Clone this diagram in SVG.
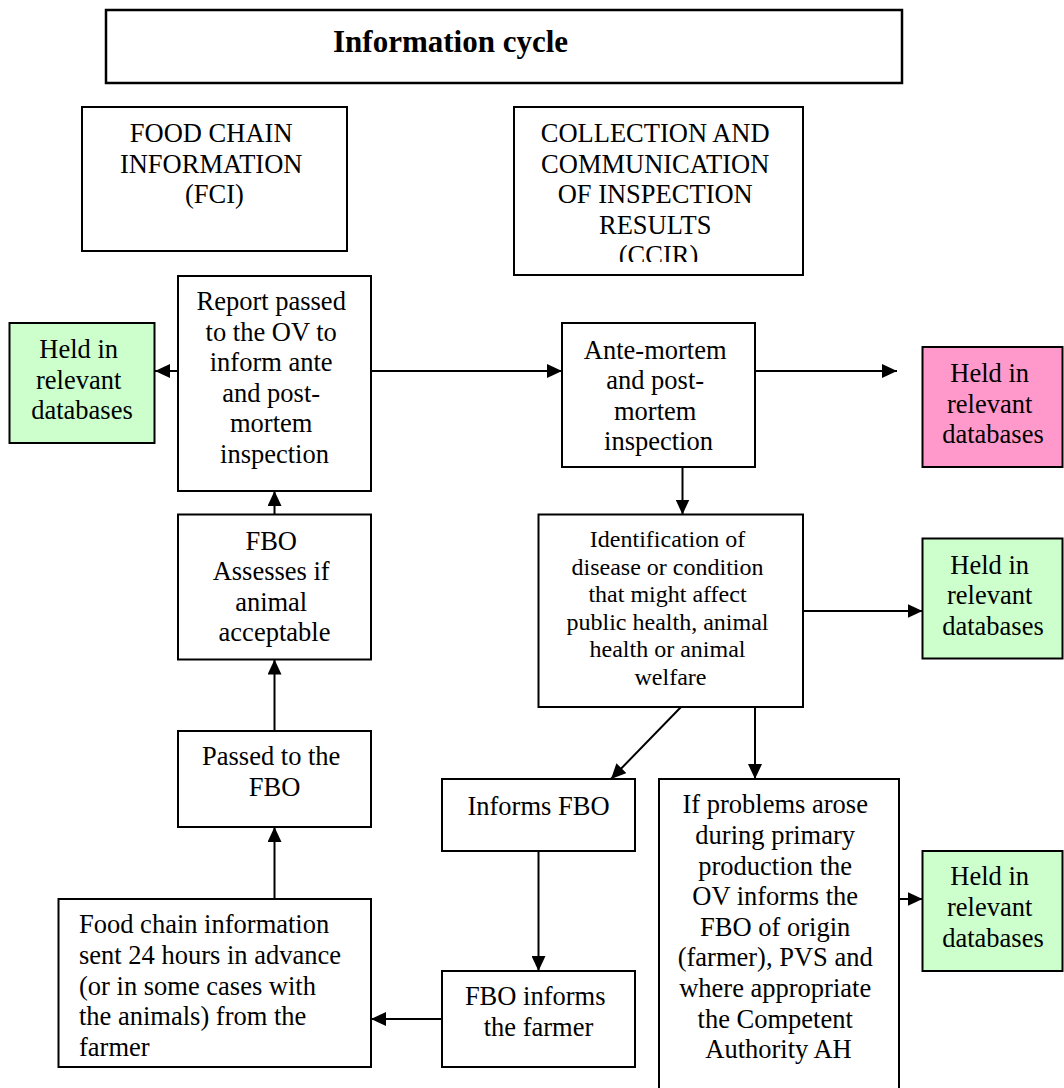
<svg xmlns="http://www.w3.org/2000/svg" width="1064" height="1088" viewBox="0 0 1064 1088">
  <defs>
    <style>
      .box { fill: #ffffff; stroke: #000000; stroke-width: 2; }
      .green { fill: #ccffcc; stroke: #000000; stroke-width: 2; }
      .pink { fill: #ff99cc; stroke: #000000; stroke-width: 2; }
      .t { font-family: "Liberation Serif", "Times New Roman", serif; font-size: 26.5px; fill: #000000; text-anchor: middle; }
      .small { font-size: 24px; }
      .left { text-anchor: start; }
      .title { font-family: "Liberation Serif", "Times New Roman", serif; font-size: 31px; font-weight: bold; fill: #000000; }
      .arrow { stroke: #000000; stroke-width: 2; fill: none; marker-end: url(#head); }
    </style>
    <marker id="head" markerUnits="userSpaceOnUse" markerWidth="16" markerHeight="14" refX="15" refY="7" orient="auto">
      <path d="M0,0 L15,7 L0,14 z" fill="#000000"/>
    </marker>
    <!-- text frame of the CCIR box: the last line is cut off at its lower edge -->
    <clipPath id="ccirClip">
      <rect x="515" y="108" width="287" height="154"/>
    </clipPath>
  </defs>

  <rect width="1064" height="1088" fill="#ffffff"/>

  <g id="title">
    <rect x="106" y="10" width="796" height="73" fill="#ffffff" stroke="#000000" stroke-width="2.5"/>
    <text class="title" x="333" y="52">Information cycle</text>
  </g>

  <g id="fci">
    <rect class="box" x="82" y="107" width="265" height="144"/>
    <text class="t">
      <tspan x="214.5" y="142">FOOD CHAIN</tspan>
      <tspan x="214.5" y="172.5">INFORMATION</tspan>
      <tspan x="214.5" y="203">(FCI)</tspan>
    </text>
  </g>

  <g id="ccir">
    <rect class="box" x="514" y="107" width="289" height="168"/>
    <text class="t" clip-path="url(#ccirClip)">
      <tspan x="658.5" y="142">COLLECTION AND</tspan>
      <tspan x="658.5" y="172.5">COMMUNICATION</tspan>
      <tspan x="658.5" y="203">OF INSPECTION</tspan>
      <tspan x="658.5" y="233.5">RESULTS</tspan>
      <tspan x="658.5" y="264">(CCIR)</tspan>
    </text>
  </g>

  <g id="report">
    <rect class="box" x="178" y="276" width="193" height="215"/>
    <text class="t">
      <tspan x="274.5" y="310">Report passed</tspan>
      <tspan x="274.5" y="340.5">to the OV to</tspan>
      <tspan x="274.5" y="371">inform ante</tspan>
      <tspan x="274.5" y="401.5">and post-</tspan>
      <tspan x="274.5" y="432">mortem</tspan>
      <tspan x="274.5" y="462.5">inspection</tspan>
    </text>
  </g>

  <g id="held-fci">
    <rect class="green" x="9.5" y="323" width="145" height="120"/>
    <text class="t">
      <tspan x="82" y="358">Held in</tspan>
      <tspan x="82" y="388.5">relevant</tspan>
      <tspan x="82" y="419">databases</tspan>
    </text>
  </g>

  <g id="ante-post-mortem">
    <rect class="box" x="562" y="323" width="193" height="144"/>
    <text class="t">
      <tspan x="658.5" y="358.5">Ante-mortem</tspan>
      <tspan x="658.5" y="389">and post-</tspan>
      <tspan x="658.5" y="419.5">mortem</tspan>
      <tspan x="658.5" y="450">inspection</tspan>
    </text>
  </g>

  <g id="held-inspection">
    <rect class="pink" x="922.5" y="347" width="140" height="120"/>
    <text class="t">
      <tspan x="993" y="382">Held in</tspan>
      <tspan x="993" y="412.5">relevant</tspan>
      <tspan x="993" y="443">databases</tspan>
    </text>
  </g>

  <g id="fbo-assesses">
    <rect class="box" x="178" y="514.5" width="193" height="145"/>
    <text class="t">
      <tspan x="274.5" y="549.5">FBO</tspan>
      <tspan x="274.5" y="580">Assesses if</tspan>
      <tspan x="274.5" y="610.5">animal</tspan>
      <tspan x="274.5" y="641">acceptable</tspan>
    </text>
  </g>

  <g id="identification">
    <rect class="box" x="538.5" y="514.5" width="264.5" height="192.5"/>
    <text class="t small">
      <tspan x="670.5" y="547">Identification of</tspan>
      <tspan x="670.5" y="574.6">disease or condition</tspan>
      <tspan x="670.5" y="602.2">that might affect</tspan>
      <tspan x="670.5" y="629.8">public health, animal</tspan>
      <tspan x="670.5" y="657.4">health or animal</tspan>
      <tspan x="670.5" y="685">welfare</tspan>
    </text>
  </g>

  <g id="held-identification">
    <rect class="green" x="922.5" y="538.5" width="140" height="120"/>
    <text class="t">
      <tspan x="993" y="573.5">Held in</tspan>
      <tspan x="993" y="604">relevant</tspan>
      <tspan x="993" y="634.5">databases</tspan>
    </text>
  </g>

  <g id="passed-to-fbo">
    <rect class="box" x="178" y="731" width="193" height="96"/>
    <text class="t">
      <tspan x="274.5" y="765">Passed to the</tspan>
      <tspan x="274.5" y="795.5">FBO</tspan>
    </text>
  </g>

  <g id="informs-fbo">
    <rect class="box" x="442" y="779" width="193" height="72"/>
    <text class="t" x="538.5" y="815">Informs FBO</text>
  </g>

  <g id="ov-informs">
    <rect class="box" x="659" y="779" width="240" height="330"/>
    <text class="t">
      <tspan x="778.5" y="813.3">If problems arose</tspan>
      <tspan x="778.5" y="843.9">during primary</tspan>
      <tspan x="778.5" y="874.5">production the</tspan>
      <tspan x="778.5" y="905.1">OV informs the</tspan>
      <tspan x="778.5" y="935.7">FBO of origin</tspan>
      <tspan x="778.5" y="966.3">(farmer), PVS and</tspan>
      <tspan x="778.5" y="996.9">where appropriate</tspan>
      <tspan x="778.5" y="1027.5">the Competent</tspan>
      <tspan x="778.5" y="1058.1">Authority AH</tspan>
    </text>
  </g>

  <g id="held-ov">
    <rect class="green" x="922.5" y="851" width="140" height="120"/>
    <text class="t">
      <tspan x="993" y="885">Held in</tspan>
      <tspan x="993" y="916">relevant</tspan>
      <tspan x="993" y="946.5">databases</tspan>
    </text>
  </g>

  <g id="food-chain-info">
    <rect class="box" x="58.5" y="899" width="312.5" height="168"/>
    <text class="t left">
      <tspan x="79" y="933">Food chain information</tspan>
      <tspan x="79" y="964">sent 24 hours in advance</tspan>
      <tspan x="79" y="994.5">(or in some cases with</tspan>
      <tspan x="79" y="1025">the animals) from the</tspan>
      <tspan x="79" y="1056">farmer</tspan>
    </text>
  </g>

  <g id="fbo-informs-farmer">
    <rect class="box" x="442" y="971" width="193" height="96"/>
    <text class="t">
      <tspan x="538.5" y="1005">FBO informs</tspan>
      <tspan x="538.5" y="1036">the farmer</tspan>
    </text>
  </g>

  <g id="connectors">
    <line class="arrow" x1="178" y1="371" x2="155" y2="371"/>
    <line class="arrow" x1="371" y1="371" x2="562" y2="371"/>
    <line class="arrow" x1="755" y1="371" x2="897" y2="371"/>
    <line class="arrow" x1="682.5" y1="467" x2="682.5" y2="514.5"/>
    <line class="arrow" x1="803" y1="611" x2="922.5" y2="611"/>
    <line class="arrow" x1="681" y1="707" x2="611" y2="779"/>
    <line class="arrow" x1="755" y1="707" x2="755" y2="779"/>
    <line class="arrow" x1="899" y1="899" x2="922.5" y2="899"/>
    <line class="arrow" x1="538.5" y1="851" x2="538.5" y2="971"/>
    <line class="arrow" x1="442" y1="1019" x2="371" y2="1019"/>
    <line class="arrow" x1="274.5" y1="899" x2="274.5" y2="827"/>
    <line class="arrow" x1="274.5" y1="731" x2="274.5" y2="659.5"/>
    <line class="arrow" x1="274.5" y1="514.5" x2="274.5" y2="491"/>
  </g>
</svg>
